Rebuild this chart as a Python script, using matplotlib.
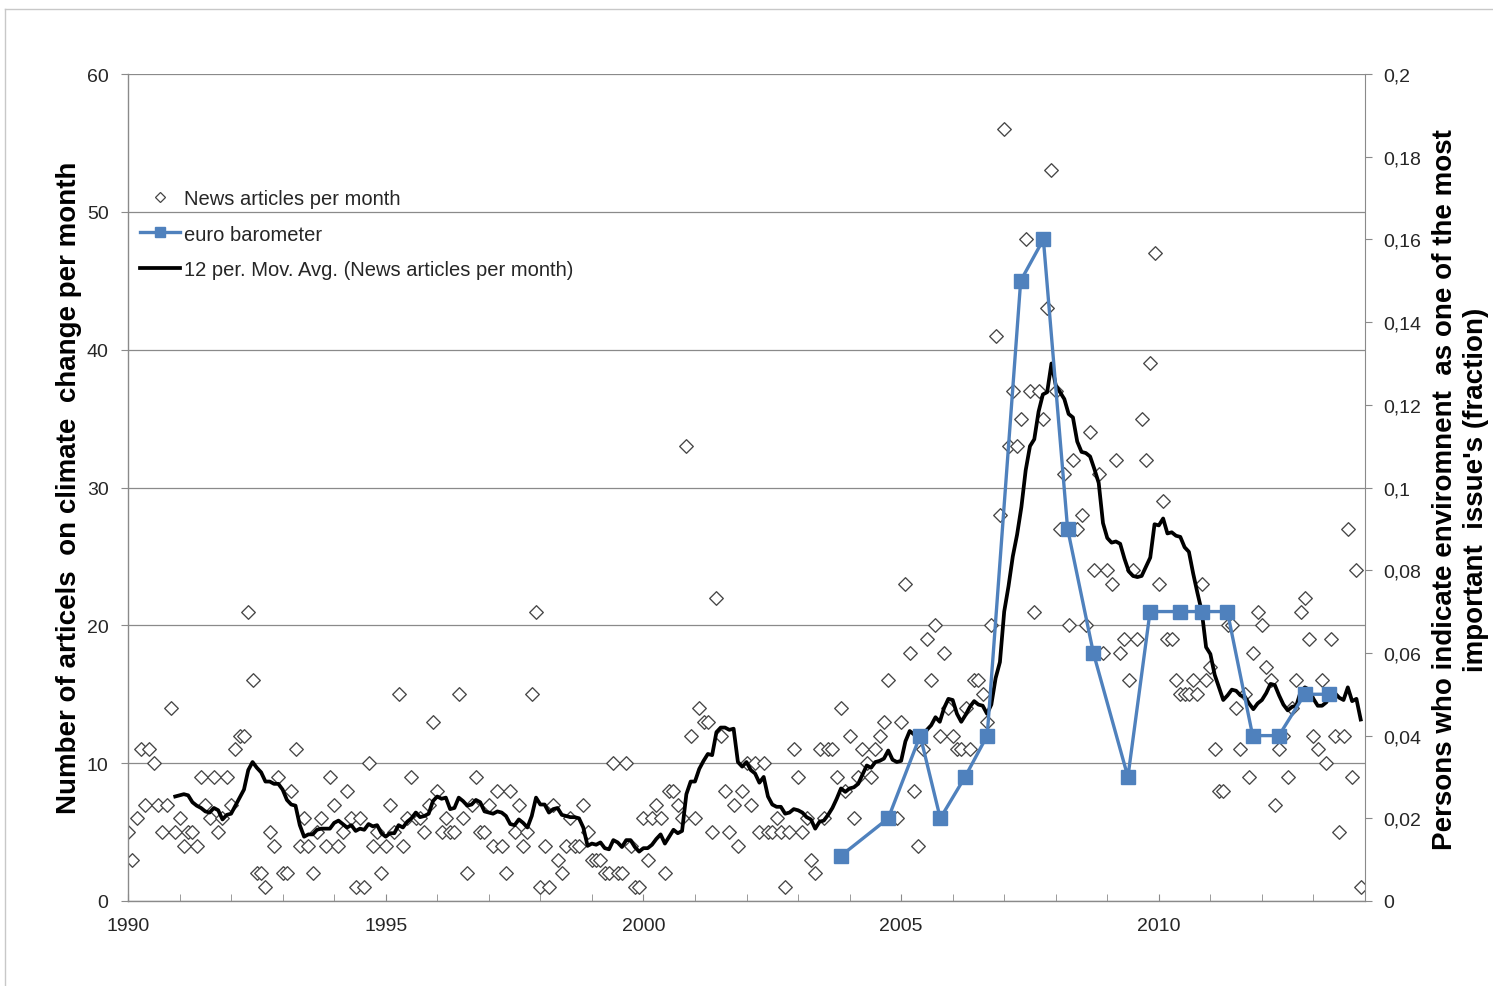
import numpy as np
import pandas as pd
import matplotlib
matplotlib.use("Agg")
import matplotlib.pyplot as plt
from matplotlib.lines import Line2D
from matplotlib.ticker import FixedLocator, MultipleLocator

plt.rcParams['font.family'] = ['Liberation Sans', 'DejaVu Sans']

# ---- News articles per month (Jan 1990 .. Dec 2013) ----
news_1990 = [5, 3, 6, 11, 7, 11, 10, 7, 5, 7, 14, 5]
news_1991 = [6, 4, 5, 5, 4, 9, 7, 6, 9, 5, 6, 9]
news_1992 = [7, 11, 12, 12, 21, 16, 2, 2, 1, 5, 4, 9]
news_1993 = [2, 2, 8, 11, 4, 6, 4, 2, 5, 6, 4, 9]
news_1994 = [7, 4, 5, 8, 6, 1, 6, 1, 10, 4, 5, 2]
news_1995 = [4, 7, 5, 15, 4, 6, 9, 6, 6, 5, 7, 13]
news_1996 = [8, 5, 6, 5, 5, 15, 6, 2, 7, 9, 5, 5]
news_1997 = [7, 4, 8, 4, 2, 8, 5, 7, 4, 5, 15, 21]
news_1998 = [1, 4, 1, 7, 3, 2, 4, 6, 4, 4, 7, 5]
news_1999 = [3, 3, 3, 2, 2, 10, 2, 2, 10, 4, 1, 1]
news_2000 = [6, 3, 6, 7, 6, 2, 8, 8, 7, 6, 33, 12]
news_2001 = [6, 14, 13, 13, 5, 22, 12, 8, 5, 7, 4, 8]
news_2002 = [10, 7, 10, 5, 10, 5, 5, 6, 5, 1, 5, 11]
news_2003 = [9, 5, 6, 3, 2, 11, 6, 11, 11, 9, 14, 8]
news_2004 = [12, 6, 9, 11, 10, 9, 11, 12, 13, 16, 6, 6]
news_2005 = [13, 23, 18, 8, 4, 11, 19, 16, 20, 12, 18, 14]
news_2006 = [12, 11, 11, 14, 11, 16, 16, 15, 13, 20, 41, 28]
news_2007 = [56, 33, 37, 33, 35, 48, 37, 21, 37, 35, 43, 53]
news_2008 = [37, 27, 31, 20, 32, 27, 28, 20, 34, 24, 31, 18]
news_2009 = [24, 23, 32, 18, 19, 16, 24, 19, 35, 32, 39, 47]
news_2010 = [23, 29, 19, 19, 16, 15, 15, 15, 16, 15, 23, 16]
news_2011 = [17, 11, 8, 8, 20, 20, 14, 11, 15, 9, 18, 21]
news_2012 = [20, 17, 16, 7, 11, 12, 9, 14, 16, 21, 22, 19]
news_2013 = [12, 11, 16, 10, 19, 12, 5, 12, 27, 9, 24, 1]

start_year = 1990
news = (news_1990 + news_1991 + news_1992 + news_1993 + news_1994 + news_1995 +
        news_1996 + news_1997 + news_1998 + news_1999 + news_2000 + news_2001 +
        news_2002 + news_2003 + news_2004 + news_2005 + news_2006 + news_2007 +
        news_2008 + news_2009 + news_2010 + news_2011 + news_2012 + news_2013)

# ---- Euro barometer (survey date as decimal year, fraction) ----
euro_dates = [2003.84, 2004.75, 2005.37, 2005.76, 2006.24, 2006.67, 2007.32,
              2007.76, 2008.23, 2008.73, 2009.40, 2009.83, 2010.41, 2010.84,
              2011.33, 2011.82, 2012.33, 2012.83, 2013.30]
euro_values = [0.011, 0.02, 0.04, 0.02, 0.03, 0.04, 0.15, 0.16, 0.09, 0.06,
               0.03, 0.07, 0.07, 0.07, 0.07, 0.04, 0.04, 0.05, 0.05]

x_ticks_major = [1990, 1995, 2000, 2005, 2010]
left_ticks = [0, 10, 20, 30, 40, 50, 60]
right_ticks = [0, 0.02, 0.04, 0.06, 0.08, 0.1, 0.12, 0.14, 0.16, 0.18, 0.2]

labels = ["News articles per month", "euro barometer",
          "12 per. Mov. Avg. (News articles per month)"]

# ---- derived ----
news_series = pd.Series(news, dtype=float)
x_news = start_year + np.arange(len(news)) / 12.0
moving_avg = news_series.rolling(12).mean()

W, H = 1493, 987
fig = plt.figure(figsize=(W / 100, H / 100), dpi=100)
fig.patch.set_facecolor('white')

L, R, B, T = 128, 1365, 902, 75
ax = fig.add_axes([L / W, 1 - B / H, (R - L) / W, (B - T) / H])

grey = '#8a8a8a'
txt = '#262626'

ax.scatter(x_news, news, marker='D', s=48, facecolors='white',
           edgecolors='#454545', linewidths=0.95, zorder=2)
ax.plot(x_news, moving_avg, color='black', lw=2.7, zorder=3,
        solid_joinstyle='round')

ax.set_xlim(1990, 2014)
ax.set_ylim(0, 60)
ax.yaxis.set_major_locator(FixedLocator(left_ticks))
ax.xaxis.set_major_locator(FixedLocator(x_ticks_major))
ax.xaxis.set_minor_locator(MultipleLocator(1))
ax.set_xticklabels([str(v) for v in x_ticks_major])
ax.yaxis.grid(True, color=grey, lw=0.9)
ax.set_axisbelow(True)

for s in ['top', 'right']:
    ax.spines[s].set_visible(False)
for s in ['left', 'bottom']:
    ax.spines[s].set_color(grey)
    ax.spines[s].set_linewidth(1.0)

ax.tick_params(axis='x', which='both', direction='in', length=5, color=grey,
               labelsize=14, labelcolor=txt, pad=11.5)
ax.tick_params(axis='y', direction='out', length=5, color=grey,
               labelsize=14, labelcolor=txt, pad=9)

ax.set_ylabel('Number of articels  on climate  change per month',
              fontsize=20, fontweight='bold', color='black')
ax.yaxis.set_label_coords((82 - L) / (R - L), (B - 488) / (B - T))

ax2 = ax.twinx()
ax2.plot(euro_dates, euro_values, color='#4F81BD', lw=2.4, marker='s',
         ms=10.5, mfc='#4F81BD', mec='#4F81BD', zorder=4)
ax2.set_ylim(0, 0.2)
ax2.yaxis.set_major_locator(FixedLocator(right_ticks))
ax2.set_yticklabels([('%g' % round(v, 2)).replace('.', ',') for v in right_ticks])
for s in ['top', 'left', 'bottom']:
    ax2.spines[s].set_visible(False)
ax2.spines['right'].set_color(grey)
ax2.tick_params(axis='y', direction='out', length=5, color=grey,
                labelsize=14, labelcolor=txt, pad=8)
ax2.set_ylabel("Persons who indicate enviromnent  as one of the most\nimportant  issue's (fraction)",
               fontsize=20, fontweight='bold', color='black', linespacing=1.25)
ax2.yaxis.set_label_coords((1432 - L) / (R - L), (B - 490) / (B - T))

h1 = Line2D([], [], ls='none', marker='D', ms=5.5, mfc='white', mec='#454545', mew=0.9)
h2 = Line2D([], [], color='#4F81BD', lw=2.4, marker='s', ms=7, mfc='#4F81BD', mec='#4F81BD')
h3 = Line2D([], [], color='black', lw=2.7)
leg = ax2.legend([h1, h2, h3], labels, loc='upper left',
                 bbox_to_anchor=((140 - L) / (R - L), (B - 190) / (B - T)),
                 frameon=False, fontsize=14.5, handlelength=2.0,
                 handletextpad=0.2, labelspacing=0.82, borderpad=0,
                 borderaxespad=0, numpoints=1)
for t in leg.get_texts():
    t.set_color(txt)

# outer chart border (left and top edges visible)
fig.add_artist(Line2D([5 / W, 5 / W], [0, 1 - 9.5 / H], transform=fig.transFigure,
                      color='#c8c8c8', lw=1.0))
fig.add_artist(Line2D([5 / W, 1], [1 - 9.5 / H, 1 - 9.5 / H], transform=fig.transFigure,
                      color='#c8c8c8', lw=1.0))

fig.savefig('out.png', dpi=100, facecolor='white')
